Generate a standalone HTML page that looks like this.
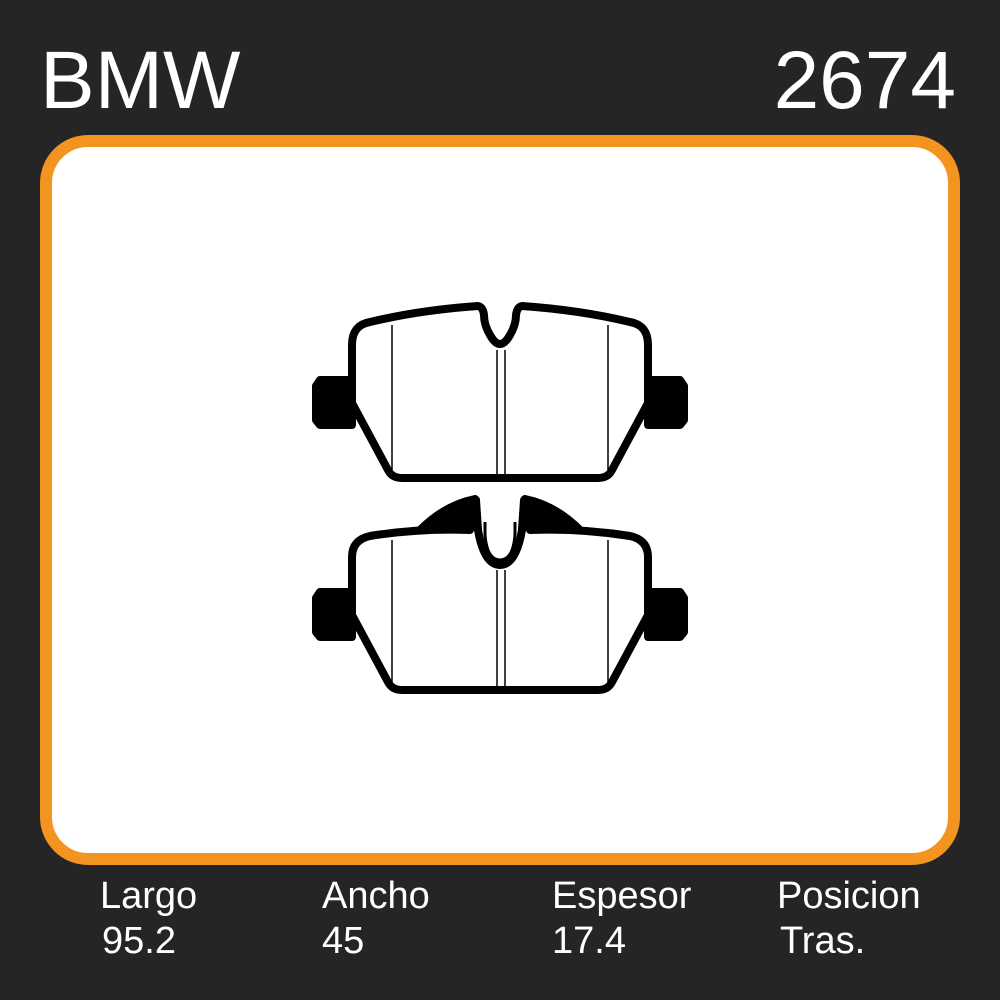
<!DOCTYPE html>
<html><head><style>
html,body{margin:0;padding:0;}
body{width:1000px;height:1000px;background:#252525;position:relative;overflow:hidden;font-family:"Liberation Sans",sans-serif;color:#fff;}
.t{position:absolute;white-space:nowrap;line-height:1;}
.frame{position:absolute;left:40px;top:135px;width:896px;height:706px;border:12px solid #f39320;border-radius:48px;background:#fff;}
</style></head><body>
<div class="t" style="left:40px;top:40px;font-size:82px;">BMW</div>
<div class="t" style="right:44px;top:40px;font-size:82px;">2674</div>
<div class="frame"></div>
<svg style="position:absolute;left:0;top:0" width="1000" height="1000">
<g stroke="#000" stroke-width="8" stroke-linejoin="round">
<path d="M352,380 L320,380 L316,386 L316,420 L320,425 L352,425 Z" fill="#000"/>
<path d="M648,380 L680,380 L684,386 L684,420 L680,425 L648,425 Z" fill="#000"/>
<path fill="#fff" d="M352,345 Q352,325 370,322 Q420,310 478,306 Q483,307 484,315 Q484,325 490,335 Q495,344 500,344 Q505,344 510,335 Q516,325 516,315 Q517,307 522,306 Q580,310 630,322 Q648,325 648,345 L648,403 L612,470 Q608,478 598,478 L402,478 Q392,478 388,470 L352,403 Z"/>
<g stroke-width="1.5"><line x1="392" y1="325" x2="392" y2="474"/><line x1="608" y1="325" x2="608" y2="474"/><line x1="497" y1="350" x2="497" y2="474"/><line x1="505" y1="350" x2="505" y2="474"/></g>
</g>
<g stroke="#000" stroke-width="8" stroke-linejoin="round">
<path d="M352,592 L320,592 L316,598 L316,632 L320,637 L352,637 Z" fill="#000"/>
<path d="M648,592 L680,592 L684,598 L684,632 L680,637 L648,637 Z" fill="#000"/>
<path fill="#000" d="M420,530 Q445,505 475,499 L478,530 Z M580,530 Q555,505 525,499 L522,530 Z"/>
<path fill="#fff" d="M352,557 Q352,540 370,536 Q420,528 470,530 L476,500 L478,530 Q484,565 500,565 Q516,565 522,530 L524,500 L530,530 Q580,528 630,536 Q648,540 648,557 L648,615 L612,682 Q608,690 598,690 L402,690 Q392,690 388,682 L352,615 Z"/>
<path fill="none" stroke-width="3" d="M485,522 L485,535 Q487,560 500,560 Q513,560 515,535 L515,522"/>
<g stroke-width="1.5"><line x1="392" y1="540" x2="392" y2="686"/><line x1="608" y1="540" x2="608" y2="686"/><line x1="497" y1="570" x2="497" y2="686"/><line x1="505" y1="570" x2="505" y2="686"/></g>
</g>
</svg>
<div class="t" style="left:100px;top:877px;font-size:38px;">Largo</div>
<div class="t" style="left:102px;top:922px;font-size:38px;">95.2</div>
<div class="t" style="left:322px;top:877px;font-size:38px;">Ancho</div>
<div class="t" style="left:322px;top:922px;font-size:38px;">45</div>
<div class="t" style="left:552px;top:877px;font-size:38px;">Espesor</div>
<div class="t" style="left:552px;top:922px;font-size:38px;">17.4</div>
<div class="t" style="left:777px;top:877px;font-size:38px;">Posicion</div>
<div class="t" style="left:780px;top:922px;font-size:38px;">Tras.</div>
</body></html>
